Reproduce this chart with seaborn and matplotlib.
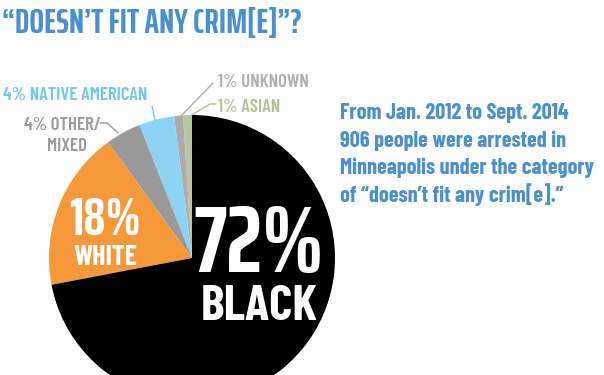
import matplotlib
matplotlib.use("Agg")
import matplotlib.pyplot as plt
import seaborn as sns

# Data (counterclockwise from 12 o'clock)
groups = ["ASIAN", "UNKNOWN", "NATIVE AMERICAN", "OTHER/MIXED", "WHITE", "BLACK"]
shares = [1, 1, 4, 4, 18, 72]
slice_colors = ["#b9c5a1", "#acacac", "#8ed3f4", "#999999", "#f6993b", "#000000"]

title_text = "\u201cDOESN\u2019T FIT ANY CRIM[E]\u201d?"
note_lines = ["From Jan. 2012 to Sept. 2014",
              "906 people were arrested in",
              "Minneapolis under the category",
              "of \u201cdoesn\u2019t fit any crim[e].\u201d"]

BLUE = "#4a8fcf"
GRAY = "#9a9a9a"

sns.set_theme(style="white")
plt.rcParams["font.family"] = ["Barlow Condensed", "Roboto Condensed", "DejaVu Sans"]
plt.rcParams["font.weight"] = "bold"
NARROW = ["Saira ExtraCondensed", "Barlow Condensed", "DejaVu Sans"]

W, H = 604, 375
fig = plt.figure(figsize=(W / 100, H / 100), dpi=100)
fig.patch.set_facecolor("white")

# pie centre (192, 258) px from top-left, radius 143 px
cx, cy, r = 192, 258, 143
ax = fig.add_axes([(cx - r) / W, (H - cy - r) / H, 2 * r / W, 2 * r / H])
ax.pie(shares, colors=slice_colors, startangle=90, counterclock=True,
       radius=1, wedgeprops=dict(linewidth=0))
ax.set_xlim(-1, 1)
ax.set_ylim(-1, 1)
ax.set_aspect("equal")
ax.axis("off")


def px(x, y):
    return x / W, 1 - y / H


fig.text(*px(2, 33), title_text, color=BLUE, fontsize=25, family=NARROW,
         fontweight="bold", ha="left", va="baseline")

# big labels inside slices
fig.text(*px(259, 272), "72%", color="white", fontsize=68, family=NARROW,
         ha="center", va="baseline")
fig.text(*px(259, 320), "BLACK", color="white", fontsize=36, ha="center", va="baseline")
fig.text(*px(105, 235), "18%", color="white", fontsize=39, family=NARROW,
         ha="center", va="baseline")
fig.text(*px(105, 265), "WHITE", color="white", fontsize=20, ha="center", va="baseline")

# small callouts
CALL = dict(fontsize=13.5, fontweight="semibold", va="baseline")
fig.text(*px(3, 100), "4% NATIVE AMERICAN", color="#6fc7ef", ha="left", **CALL)
fig.text(*px(62, 130), "4% OTHER/", color=GRAY, ha="center", **CALL)
fig.text(*px(67, 151), "MIXED", color=GRAY, ha="center", **CALL)
fig.text(*px(218, 87), "1% UNKNOWN", color="#b0b0b0", ha="left", **CALL)
fig.text(*px(218, 112), "1% ASIAN", color="#b3c09b", ha="left", **CALL)

# leader lines
leaders = [
    ([100, 107, 118], [123, 123, 133], GRAY),
    ([152, 155], [106, 120], "#6fc7ef"),
    ([213, 180], [83, 117], "#b0b0b0"),
    ([216, 210, 190], [104, 104, 116], "#b3c09b"),
]
for xs, ys, c in leaders:
    fig.add_artist(plt.Line2D([x / W for x in xs], [1 - y / H for y in ys],
                              color=c, linewidth=1.0))

for i, line in enumerate(note_lines):
    fig.text(*px(340, 119 + i * 27.5), line, color=BLUE, fontsize=16,
             ha="left", va="baseline")

fig.savefig("out.png", dpi=100, facecolor="white")
